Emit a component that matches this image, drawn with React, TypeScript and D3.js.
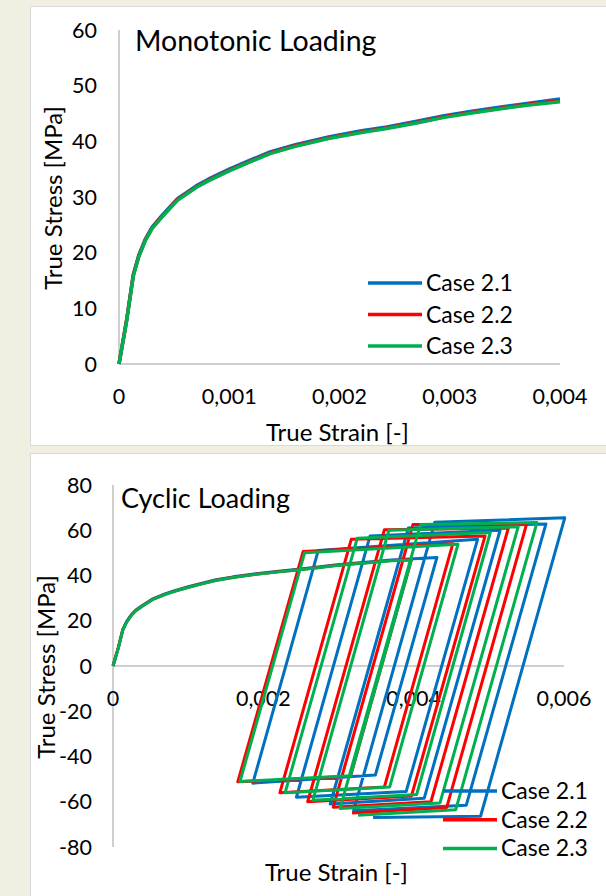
import * as d3 from "d3";

// monotonic loading (top chart)
const monoStrain = [0, 0.00007, 0.00013, 0.00018, 0.00024, 0.0003, 0.00039, 0.00053, 0.0007, 0.00081, 0.001, 0.0012, 0.00137, 0.0016, 0.0019, 0.0022, 0.00243, 0.0027, 0.00295, 0.0032, 0.00348, 0.0037, 0.004];
const monoCase21 = [0, 8, 16.1, 19.6, 22.5, 24.6, 26.7, 29.7, 32.0, 33.2, 35.0, 36.7, 38.1, 39.4, 40.8, 41.9, 42.6, 43.6, 44.6, 45.4, 46.2, 46.8, 47.6];
const monoCase22 = [0, 8, 16.0, 19.4, 22.3, 24.4, 26.5, 29.5, 31.8, 33.0, 34.8, 36.5, 37.9, 39.2, 40.6, 41.7, 42.4, 43.4, 44.4, 45.2, 46.0, 46.6, 47.3];
const monoCase23 = [0, 7.8, 15.8, 19.3, 22.2, 24.3, 26.4, 29.4, 31.7, 32.9, 34.7, 36.4, 37.8, 39.1, 40.5, 41.6, 42.3, 43.3, 44.3, 45.1, 45.9, 46.5, 47.1];

// cyclic loading (bottom chart): initial loading branch, then loop corners
const cycStrain21 = [0, 0.00007, 0.00013, 0.00018, 0.00024, 0.0003, 0.00039, 0.00053, 0.0007, 0.00081, 0.001, 0.0012, 0.00137, 0.0016, 0.0019, 0.0022, 0.00243, 0.0027, 0.00295, 0.0032, 0.00348, 0.0037, 0.004, 0.00431,
  0.00349, 0.00186, 0.00273, 0.00485, 0.0039, 0.00244, 0.00342, 0.00515, 0.00414, 0.00289, 0.00393, 0.00576, 0.0047, 0.0032, 0.00428, 0.00601, 0.00489, 0.00346];
const cycStress21 = [0, 8, 16.1, 19.6, 22.5, 24.6, 26.7, 29.7, 32.0, 33.2, 35.0, 36.7, 38.1, 39.4, 40.8, 41.9, 42.6, 43.6, 44.6, 45.4, 46.2, 46.8, 47.4, 48,
  -48.2, -51.8, 51, 56, -55.5, -58, 57.5, 60, -58.5, -61, 61, 62.8, -61.5, -64, 63.5, 65.5, -66.4, -67];
const cycStrain22 = [0, 0.00007, 0.00013, 0.00018, 0.00024, 0.0003, 0.00039, 0.00053, 0.0007, 0.00081, 0.001, 0.0012, 0.00137, 0.0016, 0.0019, 0.0022, 0.00243, 0.0027, 0.00295, 0.0032, 0.00348, 0.0037, 0.00397,
  0.00316, 0.00166, 0.00253, 0.00452, 0.00361, 0.00222, 0.00317, 0.00495, 0.00397, 0.00259, 0.00361, 0.00526, 0.00423, 0.00293, 0.00399, 0.0055, 0.00444, 0.00318];
const cycStress22 = [0, 8, 16.0, 19.4, 22.3, 24.4, 26.5, 29.5, 31.8, 33.0, 34.8, 36.5, 37.9, 39.2, 40.6, 41.7, 42.4, 43.4, 44.4, 45.2, 46.0, 46.6, 47,
  -48.7, -51.2, 50.6, 54, -53.5, -56, 56, 57.5, -57.5, -60, 60.2, 61, -60, -62.4, 62.5, 62.5, -62.5, -65];
const cycStrain23 = [0, 0.00007, 0.00013, 0.00018, 0.00024, 0.0003, 0.00039, 0.00053, 0.0007, 0.00081, 0.001, 0.0012, 0.00137, 0.0016, 0.0019, 0.0022, 0.00243, 0.0027, 0.00295, 0.0032, 0.00348, 0.0037, 0.00397,
  0.00316, 0.00169, 0.00255, 0.00459, 0.00368, 0.00229, 0.00325, 0.00502, 0.00404, 0.00266, 0.00367, 0.00539, 0.00435, 0.00302, 0.00409, 0.00564, 0.00456, 0.00326];
const cycStress23 = [0, 7.8, 15.8, 19.3, 22.2, 24.3, 26.4, 29.4, 31.7, 32.9, 34.7, 36.4, 37.8, 39.1, 40.5, 41.6, 42.3, 43.3, 44.3, 45.1, 45.9, 46.5, 46.9,
  -48.5, -51, 50.1, 53.8, -53.5, -56, 56.5, 59, -56.8, -59.3, 60, 61.5, -60.5, -63, 62.5, 63.4, -63.5, -66];

const caseNames = ["Case 2.1", "Case 2.2", "Case 2.3"];
const caseColors = ["#0070C0", "#FF0000", "#00B050"];

const monoXTicks = [0, 0.001, 0.002, 0.003, 0.004];
const monoYTicks = [0, 10, 20, 30, 40, 50, 60];
const cycXTicks = [0, 0.002, 0.004, 0.006];
const cycYTicks = [-80, -60, -40, -20, 0, 20, 40, 60, 80];

const FONT = "Lato, 'Open Sans', sans-serif";
const AXIS = "#BFBFBF";
const fmt = (v: number) => (v === 0 ? "0" : v.toFixed(3).replace(".", ","));

const zip = (xs: number[], ys: number[]) => xs.map((x, i) => [x, ys[i]] as [number, number]);

function Chart({ xDomain, xRange, yDomain, yRange, xTicks, yTicks, series, title, titleX, titleY, titleSize, lineW, yLabelX, yLabelY, xLabelY, xTickY, yTickRight, legendX, legendY, legendGap }: any) {
  const x = d3.scaleLinear(xDomain, xRange);
  const y = d3.scaleLinear(yDomain, yRange);
  const line = d3.line<[number, number]>((d) => x(d[0]), (d) => y(d[1]));
  const y0 = y(Math.max(0, yDomain[0]));
  return (
    <g fontFamily={FONT} fill="#000">
      {/* axes */}
      <line x1={x(0)} x2={x(0)} y1={yRange[1]} y2={yRange[0]} stroke={AXIS} strokeWidth={1.5} />
      <line x1={x(0)} x2={xRange[1]} y1={y0} y2={y0} stroke={AXIS} strokeWidth={1.5} />
      {yTicks.map((t: number) => (
        <text key={t} x={yTickRight} y={y(t)} dy="0.36em" textAnchor="end" fontSize={21.5}>{t}</text>
      ))}
      {xTicks.map((t: number) => (
        <text key={t} x={x(t)} y={xTickY} textAnchor="middle" fontSize={21.5}>{fmt(t)}</text>
      ))}
      <text x={titleX} y={titleY} fontSize={titleSize}>{title}</text>
      <text x={(xRange[0] + xRange[1]) / 2 - 2} y={xLabelY} textAnchor="middle" fontSize={24}>True Strain [-]</text>
      <text transform={`translate(${yLabelX},${yLabelY}) rotate(-90)`} textAnchor="middle" fontSize={24}>True Stress [MPa]</text>
      {/* series */}
      {series.map((s: [number, number][], i: number) => (
        <path key={i} d={line(s) ?? ""} fill="none" stroke={caseColors[i]} strokeWidth={lineW} strokeLinejoin="round" />
      ))}
      {/* legend */}
      {caseNames.map((n, i) => (
        <g key={n} transform={`translate(${legendX},${legendY + i * legendGap})`}>
          <line x1={0} x2={54} y1={0} y2={0} stroke={caseColors[i]} strokeWidth={3.5} />
          <text x={58} y={8} fontSize={23}>{n}</text>
        </g>
      ))}
    </g>
  );
}

export default function App() {
  const monoSeries = [zip(monoStrain, monoCase21), zip(monoStrain, monoCase22), zip(monoStrain, monoCase23)];
  const cycSeries = [zip(cycStrain21, cycStress21), zip(cycStrain22, cycStress22), zip(cycStrain23, cycStress23)];
  return (
    <svg width={606} height={896} style={{ position: "fixed", left: 0, top: 0 }}>
      <rect width={606} height={896} fill="#F0EFE2" />
      <rect x={30.5} y={6.5} width={580} height={439} fill="#fff" stroke="#D9D9D9" />
      <rect x={30.5} y={453.5} width={580} height={450} fill="#fff" stroke="#D9D9D9" />
      <Chart
        xDomain={[0, 0.004]} xRange={[119, 560]} yDomain={[0, 60]} yRange={[364, 30]}
        xTicks={monoXTicks} yTicks={monoYTicks} series={monoSeries}
        title="Monotonic Loading" titleX={135} titleY={51} titleSize={28.5} lineW={3.5}
        yLabelX={62} yLabelY={198} xLabelY={441} xTickY={404} yTickRight={97}
        legendX={368} legendY={283} legendGap={31.5}
      />
      <Chart
        xDomain={[0, 0.006]} xRange={[113, 564]} yDomain={[-80, 80]} yRange={[847, 485]}
        xTicks={cycXTicks} yTicks={cycYTicks} series={cycSeries}
        title="Cyclic Loading" titleX={121} titleY={508} titleSize={27} lineW={3}
        yLabelX={55} yLabelY={667} xLabelY={881} xTickY={706} yTickRight={92}
        legendX={443} legendY={791} legendGap={28.7}
      />
    </svg>
  );
}
